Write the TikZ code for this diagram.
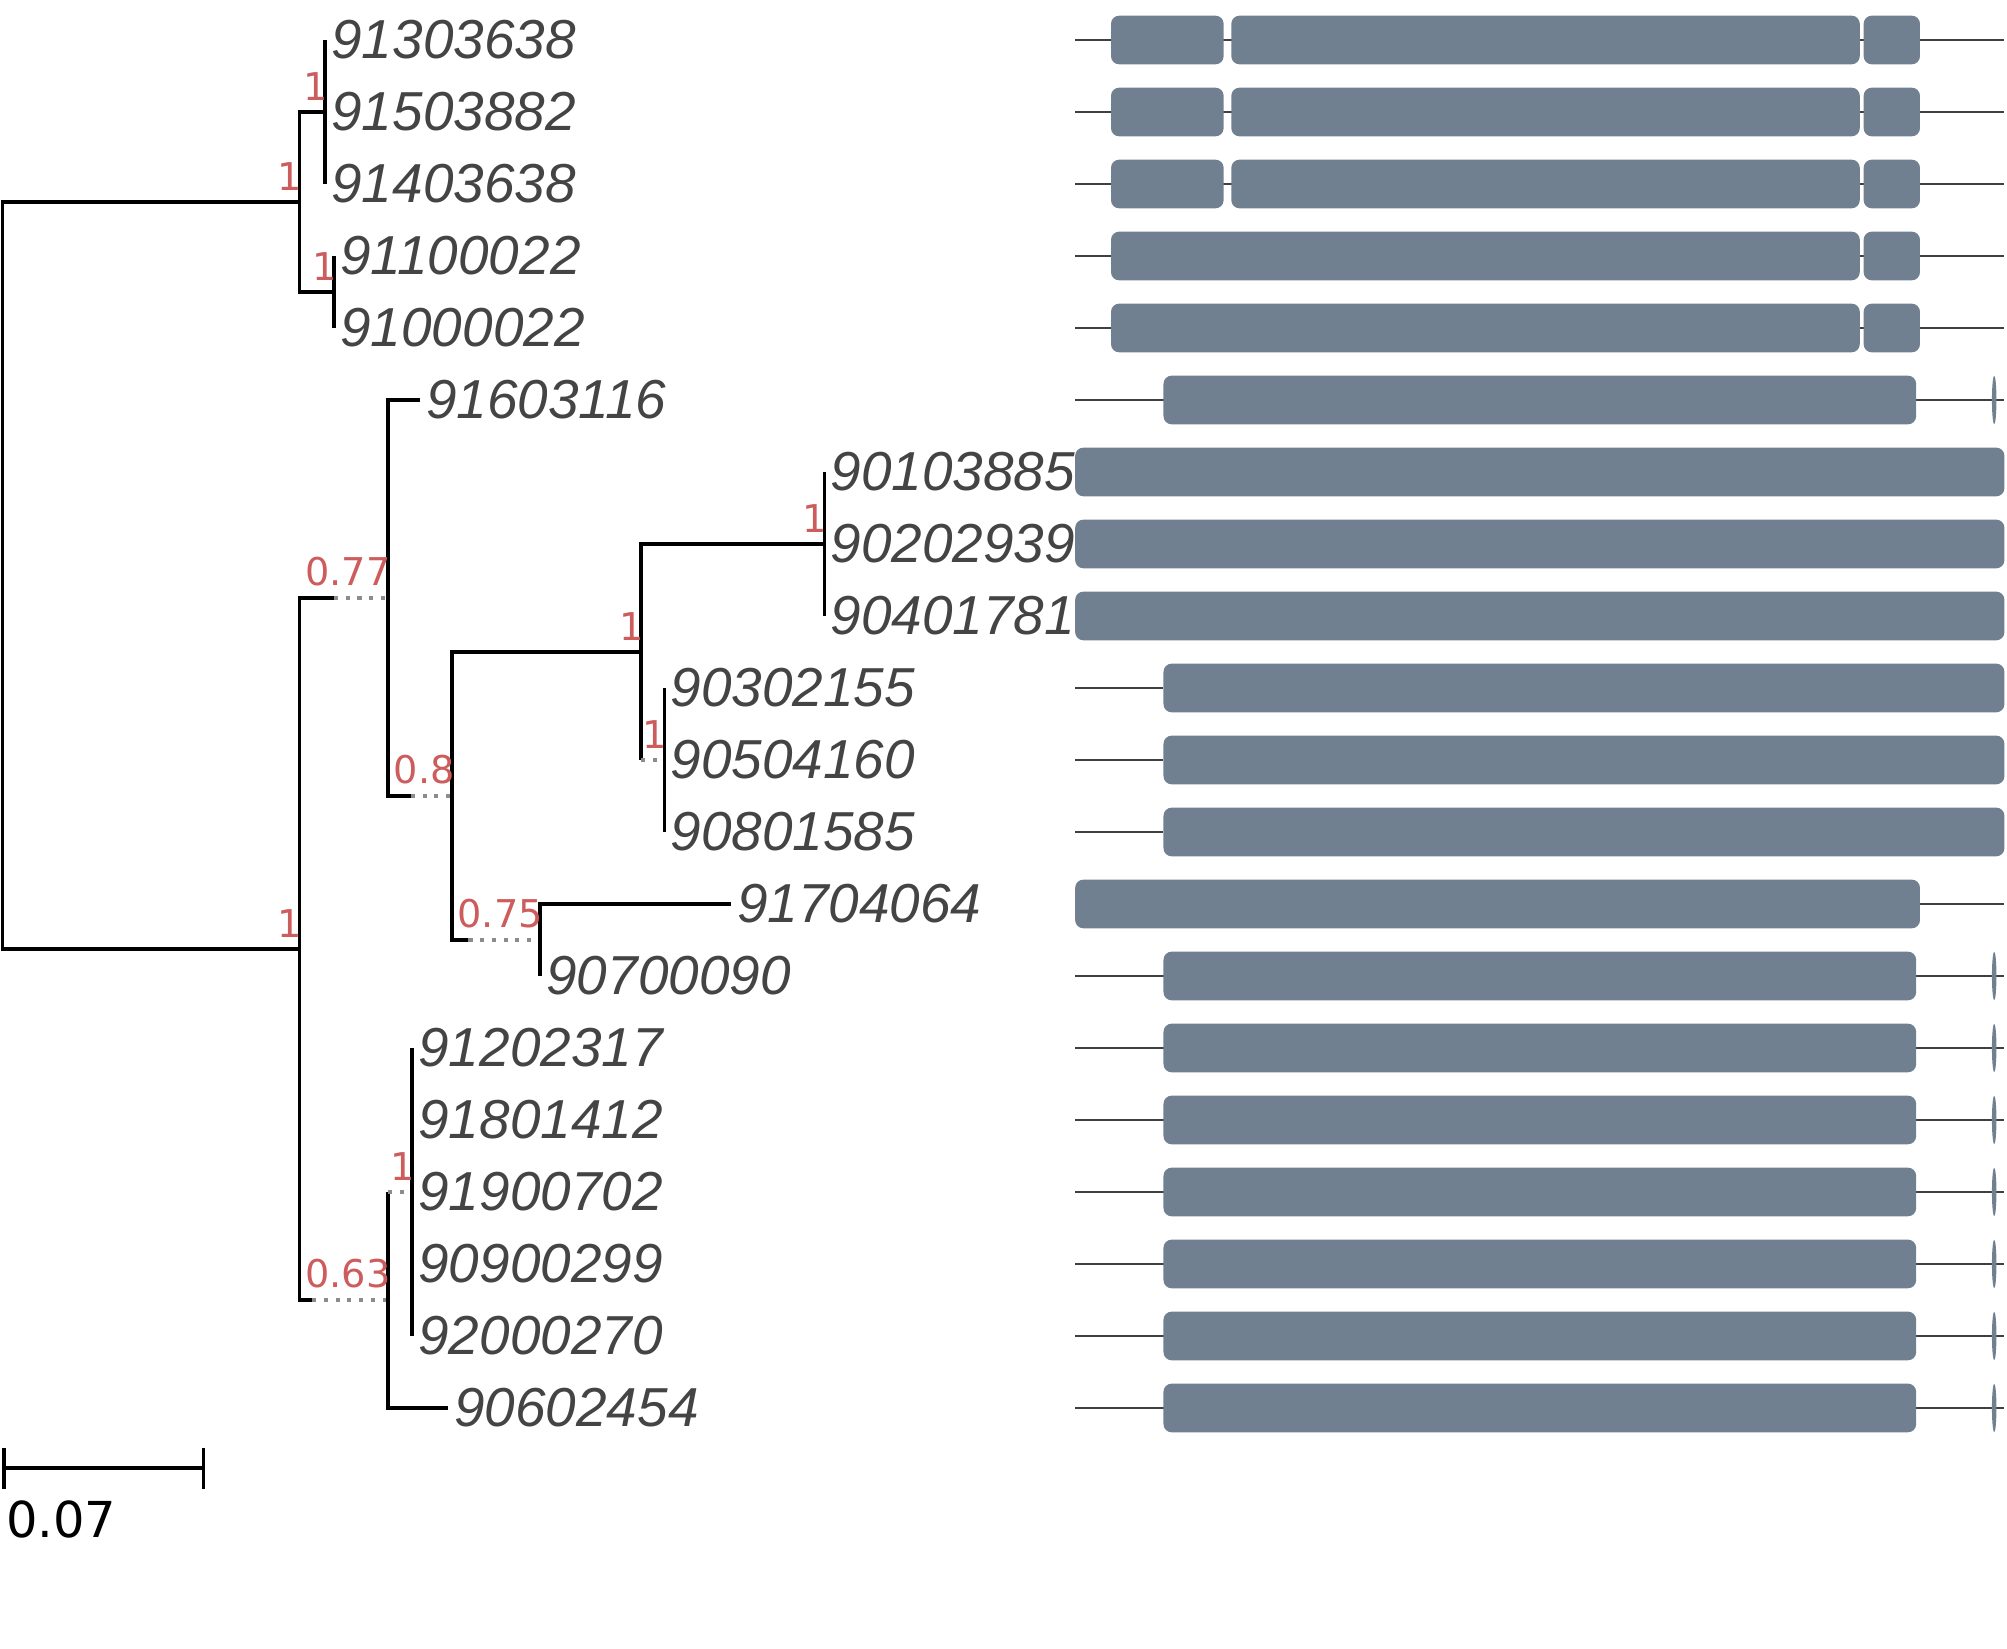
\documentclass[tikz,border=0pt]{standalone}
\usepackage{fontspec}
\setmainfont{Liberation Sans}
\newfontfamily\supfont{DejaVu Sans}
\usepackage{tikz}

\definecolor{labelgray}{HTML}{444444}
\definecolor{supred}{RGB}{205,92,92}
\definecolor{exongray}{HTML}{708090}

\tikzset{
  branch/.style={black, line width=0.8pt},
  extend/.style={black!45, line width=0.8pt, dash pattern=on 0.9pt off 1.7pt},
  leaf/.style={anchor=west, inner xsep=1.2pt, inner ysep=0pt, text=labelgray,
    font=\fontsize{12.2}{14}\selectfont\itshape},
  support/.style={anchor=south east, inner sep=0pt, text=supred,
    font=\supfont\fontsize{8.5}{10}\selectfont, xshift=0.8pt, yshift=2.4pt},
  exon/.style={fill=exongray, rounded corners=1.8pt},
  intron/.style={draw=black!75, line width=0.35pt}
}

\begin{document}
\begin{tikzpicture}[x=0.01cm,y=-0.01cm]
        \useasboundingbox (0,0) rectangle (1568,1288);
        % internal nodes
        \coordinate (R) at (2,449.6);
        \coordinate (U) at (234,157.8);
        \coordinate (UA) at (254,87.5);
        \coordinate (UB) at (261,228.1);
        \coordinate (L) at (234,741.4);
        \coordinate (L1) at (303,467.2);
        \coordinate (L1s) at (261,467.2);
        \coordinate (L1b) at (353,621.9);
        \coordinate (L1bs) at (321,621.9);
        \coordinate (C1) at (501,509.4);
        \coordinate (D1) at (644,425);
        \coordinate (D2) at (519,593.75);
        \coordinate (D2s) at (501,593.75);
        \coordinate (C2) at (422,734.4);
        \coordinate (C2s) at (366,734.4);
        \coordinate (L2) at (303,1015.6);
        \coordinate (L2s) at (244,1015.6);
        \coordinate (E) at (322,931.25);
        \coordinate (Es) at (303,931.25);
        % leaves
        \foreach \lab/\lx/\r in {91303638/254/0, 91503882/254/1, 91403638/254/2,
            91100022/261/3, 91000022/261/4, 91603116/328/5,
            90103885/644/6, 90202939/644/7, 90401781/644/8,
            90302155/519/9, 90504160/519/10, 90801585/519/11,
            91704064/571/12, 90700090/422/13,
            91202317/322/14, 91801412/322/15, 91900702/322/16,
            90900299/322/17, 92000270/322/18, 90602454/350/19}
            \node[leaf] (t\lab) at (\lx,{31.25+56.25*\r}) {\lab};
        % branches
        \draw[branch] (R) |- (U);
        \draw[branch] (R) |- (L);
        \draw[branch] (U) |- (UA);
        \draw[branch] (U) |- (UB);
        \foreach \t in {91303638,91503882,91403638} \draw[branch] (UA) |- (t\t.west);
        \foreach \t in {91100022,91000022} \draw[branch] (UB) |- (t\t.west);
        \draw[branch] (L) |- (L1s);
        \draw[extend] (L1s) -- (L1);
        \draw[branch] (L) |- (L2s);
        \draw[extend] (L2s) -- (L2);
        \draw[branch] (L1) |- (t91603116.west);
        \draw[branch] (L1) |- (L1bs);
        \draw[extend] (L1bs) -- (L1b);
        \draw[branch] (L1b) |- (C1);
        \draw[branch] (L1b) |- (C2s);
        \draw[extend] (C2s) -- (C2);
        \draw[branch] (C1) |- (D1);
        \draw[branch] (C1) |- (D2s);
        \draw[extend] (D2s) -- (D2);
        \foreach \t in {90103885,90202939,90401781} \draw[branch] (D1) |- (t\t.west);
        \foreach \t in {90302155,90504160,90801585} \draw[branch] (D2) |- (t\t.west);
        \foreach \t in {91704064,90700090} \draw[branch] (C2) |- (t\t.west);
        \draw[branch] (L2) |- (Es);
        \draw[extend] (Es) -- (E);
        \draw[branch] (L2) |- (t90602454.west);
        \foreach \t in {91202317,91801412,91900702,90900299,92000270} \draw[branch] (E) |- (t\t.west);
        % support values
        \foreach \n/\v in {U/1, UA/1, UB/1, L/1, L1/0.77, L1b/0.8, C1/1, D1/1, D2/1, C2/0.75, L2/0.63, E/1}
            \node[support] (s\n) at (\n) {\v};
        % scale bar
        \draw[branch] (3,1131) -- (3,1163) (3,1147) -- (159,1147) (159,1131) -- (159,1163);
        \node[anchor=west, inner sep=0pt, font=\supfont\fontsize{11}{13}\selectfont] (scale) at (4,1187) {0.07};
        % gene models
        \foreach \r in {0,1,2} {
            \pgfmathsetmacro{\gy}{31.25+56.25*\r}
            \draw[intron] (840,\gy) -- (1566,\gy);
            \fill[exon] (868,{\gy-19}) rectangle (956,{\gy+19});
            \fill[exon] (962,{\gy-19}) rectangle (1453,{\gy+19});
            \fill[exon] (1456,{\gy-19}) rectangle (1500,{\gy+19});
        }
        \foreach \r in {3,4} {
            \pgfmathsetmacro{\gy}{31.25+56.25*\r}
            \draw[intron] (840,\gy) -- (1566,\gy);
            \fill[exon] (868,{\gy-19}) rectangle (1453,{\gy+19});
            \fill[exon] (1456,{\gy-19}) rectangle (1500,{\gy+19});
        }
        \foreach \r in {5,13,14,15,16,17,18,19} {
            \pgfmathsetmacro{\gy}{31.25+56.25*\r}
            \draw[intron] (840,\gy) -- (1566,\gy);
            \fill[exon] (909,{\gy-19}) rectangle (1497,{\gy+19});
            \fill[exongray] (1558,\gy) ellipse [x radius=0.5pt, y radius=5.4pt];
        }
        \foreach \r in {6,7,8} {
            \pgfmathsetmacro{\gy}{31.25+56.25*\r}
            \fill[exon] (840,{\gy-19}) rectangle (1566,{\gy+19});
        }
        \foreach \r in {9,10,11} {
            \pgfmathsetmacro{\gy}{31.25+56.25*\r}
            \draw[intron] (840,\gy) -- (909,\gy);
            \fill[exon] (909,{\gy-19}) rectangle (1566,{\gy+19});
        }
        \draw[intron] (1500,706.25) -- (1566,706.25);
        \fill[exon] (840,687.25) rectangle (1500,725.25);
        \end{tikzpicture}
\end{document}
